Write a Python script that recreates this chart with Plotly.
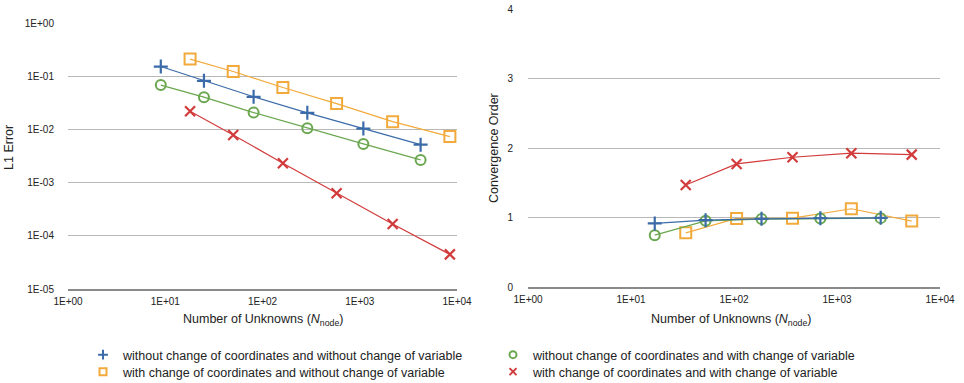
import plotly.graph_objects as go

# Left panel: L1 error vs number of unknowns
n_a = [9, 25, 81, 289, 1089, 4225]          # without change of coordinates
n_b = [18, 50, 162, 578, 2178, 8450]        # with change of coordinates
err_blue = [0.152, 0.0819, 0.041, 0.0205, 0.01035, 0.00517]
err_green = [0.068, 0.0404, 0.0207, 0.01054, 0.00533, 0.00267]
err_orange = [0.21, 0.1227, 0.0612, 0.0306, 0.014, 0.00733]
err_red = [0.022, 0.00787, 0.00231, 0.000629, 0.000166, 0.0000447]

# Right panel: convergence order
m_a = [17, 53, 185, 689, 2657]
m_b = [34, 106, 370, 1378, 5314]
ord_blue = [0.915, 0.962, 0.981, 0.991, 0.996]
ord_green = [0.746, 0.952, 0.977, 0.987, 0.991]
ord_orange = [0.779, 0.987, 0.991, 1.126, 0.948]
ord_red = [1.468, 1.771, 1.867, 1.925, 1.905]

names = [
    "without change of coordinates and without change of variable",
    "without change of coordinates and with change of variable",
    "with change of coordinates and without change of variable",
    "with change of coordinates and with change of variable",
]
x_tick_vals = [1, 10, 100, 1000, 10000]
x_tick_text = ["1E+00", "1E+01", "1E+02", "1E+03", "1E+04"]
y_tick_vals = [1, 0.1, 0.01, 0.001, 0.0001, 0.00001]
y_tick_text = ["1E+00", "1E-01", "1E-02", "1E-03", "1E-04", "1E-05"]

colors = ["#3b6ba8", "#6aa74f", "#f2aa3c", "#d23b3b"]
symbols = ["cross-thin-open", "circle-open", "square-open", "x-thin-open"]
msizes = [10, 10, 11, 10]
mwidths = [2.2, 2, 2, 2.2]
legend_ids = ["legend", "legend", "legend2", "legend2"]

left = [(n_a, err_blue), (n_a, err_green), (n_b, err_orange), (n_b, err_red)]
right = [(m_a, ord_blue), (m_a, ord_green), (m_b, ord_orange), (m_b, ord_red)]
draw_order = [2, 0, 1, 3]

fig = go.Figure()
for i in draw_order:
    x, y = left[i]
    fig.add_trace(go.Scatter(
        x=x, y=y, mode="lines+markers", xaxis="x", yaxis="y", showlegend=False,
        line=dict(color=colors[i], width=1.2),
        marker=dict(symbol=symbols[i], size=msizes[i], color=colors[i],
                    line=dict(color=colors[i], width=mwidths[i])),
    ))
for i in [2, 3, 1, 0]:
    x, y = right[i]
    fig.add_trace(go.Scatter(
        x=x, y=y, mode="lines+markers", xaxis="x2", yaxis="y2", showlegend=False,
        line=dict(color=colors[i], width=1.2),
        marker=dict(symbol=symbols[i], size=msizes[i], color=colors[i],
                    line=dict(color=colors[i], width=mwidths[i])),
    ))
for i in range(4):
    fig.add_trace(go.Scatter(
        x=[None], y=[None], mode="markers", name=names[i], xaxis="x", yaxis="y",
        legend=legend_ids[i],
        marker=dict(symbol=symbols[i], size=7, color=colors[i],
                    line=dict(color=colors[i], width=2)),
    ))

W, H = 964, 383
B = 60                # bottom margin reserved for the legends
P = H - B             # plot-area height in pixels


def fy(px):
    """pixel row (from top of figure) -> paper fraction of the plot area"""
    return (P - px) / P


font = "Liberation Sans, Arial, sans-serif"
axis_common = dict(showline=True, linecolor="#8a8a8a", linewidth=2, mirror=False,
                   ticks="", showgrid=False, zeroline=False,
                   tickfont=dict(size=10, color="#222", family=font))
legend_common = dict(orientation="h", x=83 / W, xanchor="left",
                     xref="container", yref="container", yanchor="middle",
                     entrywidth=365, entrywidthmode="pixels",
                     font=dict(size=12.5, color="#222"),
                     bgcolor="rgba(0,0,0,0)", tracegroupgap=0)
fig.update_layout(
    width=W, height=H, margin=dict(l=0, r=0, t=0, b=B, autoexpand=False),
    paper_bgcolor="white", plot_bgcolor="white",
    font=dict(family=font, color="#222"),
    xaxis=dict(type="log", range=[0, 4], domain=[68 / W, 457 / W], anchor="y",
               tickvals=x_tick_vals, ticktext=x_tick_text, ticklabelstandoff=2, **axis_common),
    yaxis=dict(type="log", range=[-5, 0], domain=[fy(289), fy(23)], anchor="x",
               tickvals=y_tick_vals, ticktext=y_tick_text, showline=False,
               showgrid=True, gridcolor="#b8b8b8", gridwidth=1, ticks="", zeroline=False,
               ticklabelstandoff=13, tickfont=dict(size=10, color="#222", family=font)),
    xaxis2=dict(type="log", range=[0, 4], domain=[528 / W, 940 / W], anchor="y2",
                tickvals=x_tick_vals, ticktext=x_tick_text, ticklabelstandoff=2, **axis_common),
    yaxis2=dict(range=[0, 4], dtick=1, domain=[fy(287), fy(9)], anchor="x2",
                showline=False, showgrid=True, gridcolor="#b8b8b8", gridwidth=1,
                ticks="", zeroline=False, ticklabelstandoff=14,
                tickfont=dict(size=10, color="#222", family=font)),
    legend=dict(y=1 - 355 / H, **legend_common),
    legend2=dict(y=1 - 372 / H, **legend_common),
    annotations=[
        dict(text="Number of Unknowns (<i>N</i><sub>node</sub>)", x=263 / W, y=fy(320),
             xref="paper", yref="paper", xanchor="center", yanchor="middle",
             showarrow=False, font=dict(size=12.5, color="#222")),
        dict(text="Number of Unknowns (<i>N</i><sub>node</sub>)", x=731 / W, y=fy(320),
             xref="paper", yref="paper", xanchor="center", yanchor="middle",
             showarrow=False, font=dict(size=12.5, color="#222")),
        dict(text="L1 Error", x=9 / W, y=fy(148), xref="paper", yref="paper",
             xanchor="center", yanchor="middle",
             showarrow=False, textangle=-90, font=dict(size=12.5, color="#222")),
        dict(text="Convergence Order", x=494 / W, y=fy(148), xref="paper", yref="paper",
             xanchor="center", yanchor="middle",
             showarrow=False, textangle=-90, font=dict(size=12.5, color="#222")),
    ],
)
fig.write_html("out.html")
